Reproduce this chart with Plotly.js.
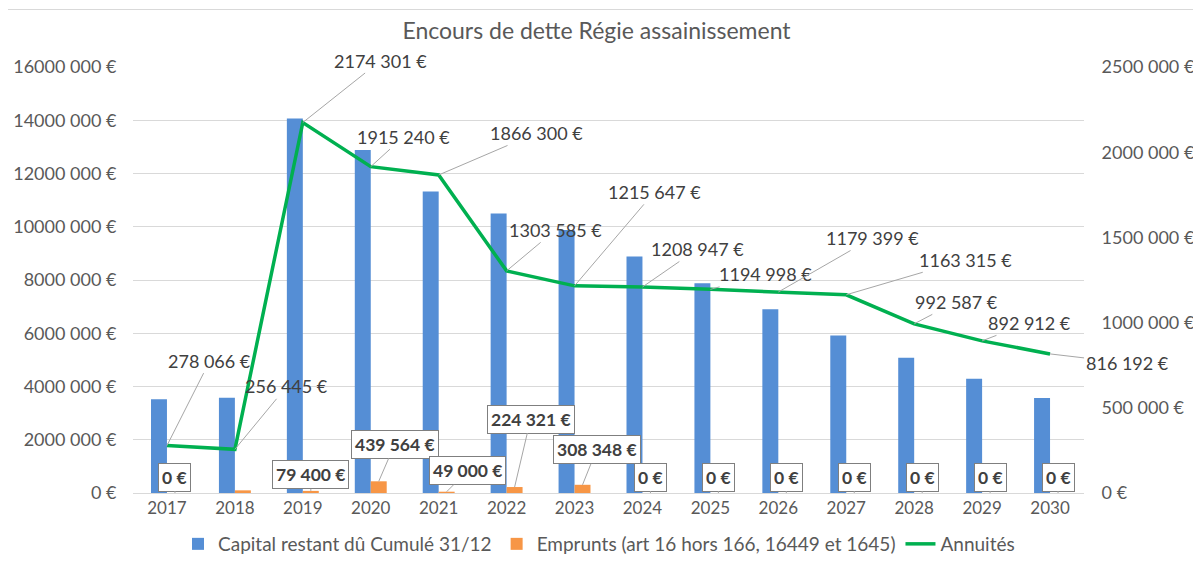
<!DOCTYPE html>
<html><head><meta charset="utf-8">
<script src="https://cdn.plot.ly/plotly-3.0.1.min.js"></script>
<style>
html,body{margin:0;padding:0;background:#fff;}
#wrap{position:relative;width:1193px;height:563px;}
#topline{position:absolute;left:8px;top:9px;width:1185px;height:0;border-top:1px solid #d9d9d9;}
#chart{position:absolute;left:0;top:0;width:1193px;height:563px;}
</style></head>
<body><div id="wrap"><div id="chart"></div><div id="topline"></div></div>
<script>
const years = ['2017','2018','2019','2020','2021','2022','2023','2024','2025','2026','2027','2028','2029','2030'];
const capital = [3520000,3580000,14070000,12880000,11320000,10500000,9880000,8880000,7880000,6900000,5920000,5080000,4290000,3570000];
const emprunts = [0,100000,79400,439564,49000,224321,308348,0,0,0,0,0,0,0];
const empruntsLabels = ['0 €',null,'79 400 €','439 564 €','49 000 €','224 321 €','308 348 €','0 €','0 €','0 €','0 €','0 €','0 €','0 €'];
const annuites = [278066,256445,2174301,1915240,1866300,1303585,1215647,1208947,1194998,1179399,1163315,992587,892912,816192];
const annuitesLabels = ['278 066 €','256 445 €','2174 301 €','1915 240 €','1866 300 €','1303 585 €','1215 647 €','1208 947 €','1194 998 €','1179 399 €','1163 315 €','992 587 €','892 912 €','816 192 €'];
const leftTickVals = [0,2000000,4000000,6000000,8000000,10000000,12000000,14000000,16000000];
const leftTickText = ['0 €','2000 000 €','4000 000 €','6000 000 €','8000 000 €','10000 000 €','12000 000 €','14000 000 €','16000 000 €'];
const rightTickVals = [0,500000,1000000,1500000,2000000,2500000];
const rightTickText = ['0 €','500 000 €','1000 000 €','1500 000 €','2000 000 €','2500 000 €'];
const seriesNames = ['Capital restant dû Cumulé 31/12','Emprunts (art 16 hors 166, 16449 et 1645)','Annuités'];
const chartTitle = 'Encours de dette Régie assainissement';

// label offsets (styling)
const annOff = [[43,-85],[52,-63],[78,-62],[33,-30],[98,-42],[49,-41],[80,-94],[55,-38],[55,-15],[94,-54],[119,-35],[42,-22],[47,-18],[77,9]];
const empOff = [[0,-16],[0,-16],[0,-16],[16,-37],[21,-21],[16,-68],[14,-35],[0,-16],[0,-16],[0,-16],[0,-16],[0,-16],[0,-16],[0,-16]];

const FONT = 'Lato, "Open Sans", sans-serif';
const GREY = '#595959';

const traces = [
  {type:'bar', name:seriesNames[0], x:years, y:capital, marker:{color:'#558ed5'}, hoverinfo:'skip'},
  {type:'bar', name:seriesNames[1], x:years, y:emprunts, marker:{color:'#f79646'}, hoverinfo:'skip'},
  {type:'scatter', mode:'lines', name:seriesNames[2], x:years, y:annuites, yaxis:'y2', line:{color:'#00b050', width:3.5}, hoverinfo:'skip'}
];

const annotations = [];
years.forEach((yr,i)=>{
  annotations.push({x:i, y:annuites[i], xref:'x', yref:'y2', text:annuitesLabels[i],
    showarrow:true, arrowhead:0, arrowwidth:1, arrowcolor:'#a6a6a6', ax:annOff[i][0], ay:annOff[i][1],
    font:{family:FONT, size:18, color:'#404040'}});
  if (empruntsLabels[i] !== null) {
    annotations.push({x:i, y:emprunts[i], xref:'x', yref:'y', text:'<b>'+empruntsLabels[i]+'</b>',
      xshift:8, showarrow:true, arrowhead:0, arrowwidth:1, arrowcolor:'#a6a6a6', ax:empOff[i][0], ay:empOff[i][1],
      bgcolor:'#ffffff', bordercolor:'#7f7f7f', borderwidth:1, borderpad:3,
      font:{family:FONT, size:17.5, color:'#404040'}});
  }
});

const layout = {
  width:1193, height:563,
  margin:{l:133, r:109, t:67, b:70},
  paper_bgcolor:'rgba(0,0,0,0)', plot_bgcolor:'#fff',
  title:{text:chartTitle, x:0.5, xanchor:'center', y:0.945, yanchor:'middle', font:{family:FONT, size:23, color:GREY}},
  barmode:'group', bargap:0.53, bargroupgap:0,
  showlegend:true,
  legend:{orientation:'h', x:0.49, xanchor:'center', xref:'paper', yref:'container', y:0, yanchor:'bottom', font:{family:FONT, size:19, color:GREY}, itemwidth:30, tracegroupgap:0},
  xaxis:{type:'category', range:[-0.5,13.5], autorange:false, tickfont:{family:FONT, size:17, color:GREY}, showline:true, linecolor:'#d9d9d9', linewidth:1, ticks:'', showgrid:false, zeroline:false, automargin:false},
  yaxis:{range:[0,16000000], autorange:false, tickvals:leftTickVals, ticktext:leftTickText, tickfont:{family:FONT, size:18, color:GREY},
    gridcolor:'#d9d9d9', gridwidth:1, zeroline:false, showline:false, ticks:'outside', ticklen:12, tickcolor:'rgba(0,0,0,0)', automargin:false},
  yaxis2:{range:[0,2500000], autorange:false, overlaying:'y', side:'right', tickvals:rightTickVals, ticktext:rightTickText,
    tickfont:{family:FONT, size:18, color:GREY}, showgrid:false, zeroline:false, showline:false, ticks:'outside', ticklen:13, tickcolor:'rgba(0,0,0,0)', automargin:false},
  annotations:annotations
};
Plotly.newPlot('chart', traces, layout, {staticPlot:true, displayModeBar:false});
</script></body></html>
